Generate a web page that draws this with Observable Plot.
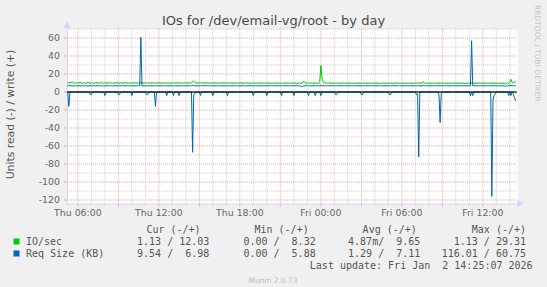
<!DOCTYPE html>
<html><head><meta charset="utf-8">
<script src="https://cdn.jsdelivr.net/npm/d3@7"></script>
<script src="https://cdn.jsdelivr.net/npm/@observablehq/plot@0.6"></script>
<style>
html,body{margin:0;padding:0;background:#f0f0f0;}
#chart svg{display:block;}
</style></head><body><div id="chart"></div>
<script>
// ---- data (5-minute samples from Thu 2026-01-01 05:15 UTC) ----
const startTime = "2026-01-01T05:15:00Z";
const stepMinutes = 5;

// IO/sec, write (+)
const ioWrite = [
/*Thu05*/ 10.2,10.6,9.9,10.8,11.4,10.3,9.8,10.1,10.5,
/*Thu06*/ 9.7,10.2,10.9,10.1,9.6,10.4,10.0,9.5,10.3,10.7,9.9,10.2,
/*Thu07*/ 10.5,9.8,9.4,10.1,10.6,9.9,10.3,9.7,10.0,10.8,10.2,9.6,
/*Thu08*/ 10.4,9.9,10.1,9.5,10.3,10.7,9.8,10.0,9.6,10.2,10.5,9.9,
/*Thu09*/ 10.1,9.7,10.4,10.0,9.5,10.2,10.6,9.8,10.3,9.9,10.1,9.7,
/*Thu10*/ 10.3,9.8,10.0,10.5,9.6,10.2,9.9,10.4,10.7,10.1,9.8,10.2,
/*Thu11*/ 9.9,10.3,10.1,9.7,10.4,9.8,10.0,10.6,9.9,10.2,9.6,10.1,
/*Thu12*/ 10.4,9.7,10.0,10.3,9.8,10.1,10.5,9.9,9.6,10.2,10.0,9.8,
/*Thu13*/ 10.2,9.9,10.4,9.7,10.1,10.6,9.8,10.0,10.3,9.5,10.1,9.9,
/*Thu14*/ 10.3,10.0,9.7,10.2,9.9,10.8,11.6,12.2,10.9,10.1,9.8,10.3,
/*Thu15*/ 9.9,10.4,10.0,9.6,10.2,9.8,10.1,10.5,9.9,10.0,9.7,10.3,
/*Thu16*/ 10.1,9.8,10.2,10.0,9.6,10.4,9.9,10.1,9.7,10.3,10.0,9.8,
/*Thu17*/ 10.2,9.9,9.6,10.1,10.4,9.8,10.0,9.7,10.3,9.9,10.1,9.6,
/*Thu18*/ 10.0,10.3,9.8,9.5,10.1,9.9,10.2,9.7,10.0,9.4,9.9,10.2,
/*Thu19*/ 9.8,10.1,9.6,10.0,9.9,10.3,9.7,9.5,10.1,9.8,10.0,9.6,
/*Thu20*/ 10.2,9.9,9.7,10.0,9.5,9.8,10.1,9.6,9.9,10.3,9.8,9.7,
/*Thu21*/ 10.0,9.6,9.9,10.2,9.7,9.8,10.1,9.5,9.9,10.0,9.6,9.8,
/*Thu22*/ 10.1,9.7,9.9,9.4,10.0,10.3,9.8,9.6,11.1,12.0,10.4,9.9,
/*Thu23*/ 9.7,10.0,9.5,9.8,10.2,9.6,9.9,9.7,10.1,9.5,9.8,10.6,
/*Fri00*/ 29.31,15.2,11.4,10.3,9.8,10.1,9.6,9.9,10.2,9.7,9.5,10.0,
/*Fri01*/ 9.8,9.6,10.1,9.9,9.4,10.0,9.7,9.8,10.2,9.6,9.9,9.5,
/*Fri02*/ 9.9,10.1,9.6,9.8,9.5,10.0,9.7,9.9,9.4,9.8,10.1,9.6,
/*Fri03*/ 9.7,9.9,10.2,9.6,9.8,9.5,10.0,9.7,9.9,9.6,9.8,10.1,
/*Fri04*/ 9.8,9.5,9.9,10.0,9.6,9.7,9.4,9.9,10.1,9.6,9.8,9.5,
/*Fri05*/ 9.9,9.7,10.0,9.6,9.8,9.5,9.9,10.2,9.7,9.6,9.8,10.0,
/*Fri06*/ 9.6,9.9,9.7,10.1,9.5,9.8,9.6,10.0,9.7,9.9,9.4,9.8,
/*Fri07*/ 10.0,9.7,9.9,10.3,9.6,9.8,10.1,11.4,10.2,9.7,9.9,9.6,
/*Fri08*/ 9.8,10.0,9.5,9.9,9.7,10.1,9.6,9.8,9.4,9.9,10.2,9.7,
/*Fri09*/ 9.9,9.6,9.8,10.0,9.5,9.7,9.9,9.6,10.1,9.8,9.5,9.9,
/*Fri10*/ 9.7,9.9,9.6,9.8,10.0,9.5,9.9,9.7,9.6,10.1,9.8,9.5,
/*Fri11*/ 9.9,9.7,10.0,9.6,9.8,9.9,9.5,9.7,10.1,9.8,9.6,9.9,
/*Fri12*/ 9.8,9.6,9.9,10.0,9.7,9.5,9.8,10.1,9.6,9.9,9.7,9.8,
/*Fri13*/ 9.6,9.9,9.7,9.5,9.8,10.0,9.6,9.9,8.32,9.7,9.8,9.6,
/*Fri14*/ 10.4,14.0,11.2,10.1,10.6,12.03
];

// IO/sec, read (-)
const ioRead = [
/*Thu05*/ 0,0,0,0,0,0,0,0,0,
/*Thu06*/ 0,0,0,0,0,0,0,0,0,0,0,0,
/*Thu07*/ 0,0,0,0,0,0,0,0,0,0,0,0,
/*Thu08*/ 0,0,0,0,0,0,0,0,0,0,0,0,
/*Thu09*/ 0,0,0,0,0,0,0,0,0,0,0,0,
/*Thu10*/ 0,0,0,0,0,0,0,0,0,0,0,0,
/*Thu11*/ 0,0,0,0,0,0,0,0,0,0,0,0,
/*Thu12*/ 0,0,0,0,0,0,0,0,0,0,0,0,
/*Thu13*/ 0,0,0,0,0,0,0,0,0,0,0,0,
/*Thu14*/ 0,0,0,0,0,0,0.8,0,0,0,0,0,
/*Thu15*/ 0,0,0,0,0,0,0,0,0,0,0,0,
/*Thu16*/ 0,0,0,0,0,0,0,0,0,0,0,0,
/*Thu17*/ 0,0,0,0,0,0,0,0,0,0,0,0,
/*Thu18*/ 0,0,0,0,0,0,0,0,0,0,0,0,
/*Thu19*/ 0,0,0,0,0,0,0,0,0,0,0,0,
/*Thu20*/ 0,0,0,0,0,0,0,0,0,0,0,0,
/*Thu21*/ 0,0,0,0,0,0,0,0,0,0,0,0,
/*Thu22*/ 0,0,0,0,0,0,0,0,0,0,0,0,
/*Thu23*/ 0,0,0,0,0,0,0,0,0,0,0,0,
/*Fri00*/ 0,0,0,0,0,0,0,0,0,0,0,0,
/*Fri01*/ 0,0,0,0,0,0,0,0,0,0,0,0,
/*Fri02*/ 0,0,0,0,0,0,0,0,0,0,0,0,
/*Fri03*/ 0,0,0,0,0,0,0,0,0,0,0,0,
/*Fri04*/ 0,0,0,0,0,0,0,0,0,0,0,0,
/*Fri05*/ 0,0,0,0,0,0,0,0,0,0,0,0,
/*Fri06*/ 0,0,0,0,0,0,0,0,0,0,0,0,
/*Fri07*/ 0,0,0,0,0,0,0,0,0,0,0,0,
/*Fri08*/ 0,0,0,0,0,0,0,0,0,0,0,0,
/*Fri09*/ 0,0,0,0,0,0,0,0,0,0,0,0,
/*Fri10*/ 0,0,0,0,0,0,0,0,0,0,0,0,
/*Fri11*/ 0,0,0,0,0,0,0,0,0,0,0,0,
/*Fri12*/ 0,0,0,0,0,0,0,0,0,0,0,0,
/*Fri13*/ 0,0,0,0,0,0,0,0,0,0,0,0,
/*Fri14*/ 0,0,0,0,0,1.13
];

// Req Size (KB), write (+)
const reqWrite = [
/*Thu05*/ 7.0,6.8,7.1,6.9,6.7,7.0,6.8,6.9,7.1,
/*Thu06*/ 6.8,7.0,6.9,6.7,7.1,6.8,6.9,7.0,6.8,6.7,6.9,7.0,
/*Thu07*/ 6.9,6.8,7.0,6.9,6.7,7.1,6.8,6.9,7.0,6.8,6.9,6.7,
/*Thu08*/ 7.0,6.9,6.8,7.1,6.9,6.8,7.0,6.7,6.9,7.0,6.8,6.9,
/*Thu09*/ 6.8,7.0,6.9,6.8,7.0,6.9,6.7,7.1,6.9,6.8,7.0,6.9,
/*Thu10*/ 6.9,6.8,7.0,6.9,6.8,7.0,6.9,6.8,60.75,6.9,7.0,6.8,
/*Thu11*/ 7.0,6.9,6.8,7.0,6.9,6.7,7.0,6.9,6.8,7.0,6.9,6.8,
/*Thu12*/ 6.9,7.0,6.8,6.9,7.1,6.8,6.9,7.0,6.8,6.9,7.0,6.9,
/*Thu13*/ 6.8,6.9,7.0,6.8,6.9,7.0,6.7,6.9,7.0,6.8,6.9,7.0,
/*Thu14*/ 6.9,6.8,7.0,6.9,6.8,7.0,7.2,7.4,7.0,6.9,6.8,7.0,
/*Thu15*/ 6.9,7.0,6.8,6.9,7.0,6.8,6.9,7.1,6.9,6.8,7.0,6.9,
/*Thu16*/ 7.0,6.8,6.9,7.0,6.8,6.9,7.0,6.9,6.8,7.0,6.9,6.8,
/*Thu17*/ 6.9,7.0,6.8,6.9,7.0,6.9,6.8,7.0,6.9,6.8,7.0,6.9,
/*Thu18*/ 6.8,6.9,7.0,6.8,6.9,7.0,6.8,6.9,7.1,6.9,6.8,7.0,
/*Thu19*/ 6.9,6.8,7.0,6.9,6.8,7.0,6.9,6.8,6.9,7.0,6.8,6.9,
/*Thu20*/ 7.0,6.9,6.8,7.0,6.9,6.8,6.9,7.0,6.8,6.9,7.0,6.8,
/*Thu21*/ 6.9,7.0,6.8,6.9,6.8,7.0,6.9,6.8,7.0,6.9,6.8,6.9,
/*Thu22*/ 7.0,6.8,6.9,7.0,6.8,6.9,6.4,5.88,6.2,6.8,6.9,7.0,
/*Thu23*/ 6.8,6.9,7.0,6.8,6.9,7.0,6.8,6.9,6.8,7.0,6.9,6.8,
/*Fri00*/ 7.3,7.0,6.9,6.8,7.0,6.9,6.8,6.9,7.0,6.8,6.9,7.0,
/*Fri01*/ 6.9,6.8,7.0,6.9,6.8,7.0,6.9,6.8,6.9,7.0,6.8,6.9,
/*Fri02*/ 7.0,6.9,6.8,7.0,6.9,6.8,6.9,7.0,6.8,6.9,7.0,6.9,
/*Fri03*/ 6.8,7.0,6.9,6.8,7.0,6.9,6.8,6.9,7.0,6.8,6.9,7.0,
/*Fri04*/ 6.9,6.8,7.0,6.9,6.8,6.9,7.0,6.8,6.9,7.0,6.9,6.8,
/*Fri05*/ 7.0,6.9,6.8,6.9,7.0,6.8,6.9,7.0,6.9,6.8,7.0,6.9,
/*Fri06*/ 6.8,6.9,7.0,6.8,6.9,7.0,6.9,6.8,7.0,6.9,6.8,6.9,
/*Fri07*/ 7.0,6.8,6.9,7.1,6.9,6.8,7.0,7.2,6.9,6.8,7.0,6.9,
/*Fri08*/ 6.9,7.0,6.8,6.9,7.0,6.8,6.9,7.0,6.8,6.9,7.0,6.9,
/*Fri09*/ 6.8,6.9,7.0,6.8,6.9,7.0,6.9,6.8,7.0,6.9,6.8,7.0,
/*Fri10*/ 6.9,7.0,6.8,6.9,7.0,6.8,6.9,7.0,6.9,6.8,6.9,7.0,
/*Fri11*/ 6.8,6.9,57.0,6.9,7.0,6.8,6.9,7.0,6.8,6.9,7.0,6.9,
/*Fri12*/ 7.0,6.8,6.9,7.0,6.9,6.8,7.0,6.9,7.1,6.9,6.8,7.0,
/*Fri13*/ 6.9,7.0,6.8,6.9,7.0,6.8,6.9,6.7,6.2,6.8,6.9,7.0,
/*Fri14*/ 6.9,7.2,7.0,6.8,6.9,6.98
];

// Req Size (KB), read (-)
const reqRead = [
/*Thu05*/ 0,16,0,0,0,0,0,0,0,
/*Thu06*/ 0,0,0,0,0,0,0,0,0,0,0,3,
/*Thu07*/ 3,0,0,0,0,0,0,0,0,0,0,0,
/*Thu08*/ 4,0,0,0,0,0,0,0,0,0,0,0,
/*Thu09*/ 3,3,0,0,0,0,0,0,0,0,0,0,
/*Thu10*/ 4,0,0,0,0,0,0,0,0,0,0,0,
/*Thu11*/ 0,3,3,0,0,0,0,0,0,16,0,0,
/*Thu12*/ 0,0,0,0,0,0,0,4,0,0,0,0,
/*Thu13*/ 0,4,0,0,0,0,4,0,0,0,0,0,
/*Thu14*/ 0,0,0,0,0,0,67,3,2,0,0,0,
/*Thu15*/ 0,4,0,0,0,0,0,0,0,0,0,0,
/*Thu16*/ 4,0,0,0,0,0,0,0,0,0,0,0,
/*Thu17*/ 0,4,0,0,0,0,0,0,0,0,0,0,
/*Thu18*/ 0,0,0,0,0,0,0,0,0,0,0,0,
/*Thu19*/ 4,0,0,0,0,0,0,0,0,0,0,0,
/*Thu20*/ 4,0,0,0,0,0,0,0,0,0,0,0,
/*Thu21*/ 0,4,0,0,0,0,0,0,0,0,0,0,
/*Thu22*/ 4,0,0,0,0,0,0,0,0,0,0,0,
/*Thu23*/ 0,4,0,0,0,0,0,4,0,0,0,0,
/*Fri00*/ 4,0,0,0,0,0,0,0,0,0,0,0,
/*Fri01*/ 0,3,3,0,0,0,0,0,0,0,0,0,
/*Fri02*/ 0,0,0,0,0,0,0,0,0,0,0,0,
/*Fri03*/ 3,3,0,0,0,0,0,0,0,0,0,0,
/*Fri04*/ 0,0,0,0,0,0,0,0,0,0,0,0,
/*Fri05*/ 0,3,3,0,0,0,0,0,0,0,0,0,
/*Fri06*/ 0,0,0,0,0,0,0,0,0,0,0,0,
/*Fri07*/ 0,3,2,72,0,0,0,0,0,0,0,0,
/*Fri08*/ 0,0,0,0,0,0,0,0,0,3,34,2,
/*Fri09*/ 0,0,0,0,0,0,0,0,0,0,0,0,
/*Fri10*/ 0,0,0,0,0,0,0,0,0,0,0,0,
/*Fri11*/ 0,4,0,4,0,0,0,0,0,0,0,0,
/*Fri12*/ 0,0,0,0,0,0,0,0,116.01,9,4,2,
/*Fri13*/ 0,0,0,0,0,0,0,0,0,0,0,4,
/*Fri14*/ 0,4,0,2,6,9.54
];

const yTicks = [60,40,20,0,-20,-40,-60,-80,-100,-120];
const xTickLabels = ["Thu 06:00","Thu 12:00","Thu 18:00","Fri 00:00","Fri 06:00","Fri 12:00"];
const seriesNames = ["IO/sec","Req Size (KB)"];
const seriesColors = ["#00cc00","#0066b3"];
const legendHeaders = ["Cur (-/+)","Min (-/+)","Avg (-/+)","Max (-/+)"];
const ioLegend = ["1.13 / 12.03","0.00 /  8.32","4.87m/  9.65","1.13 / 29.31"];
const reqLegend = ["9.54 /  6.98","0.00 /  5.88","1.29 /  7.11","116.01 / 60.75"];
const titleText = "IOs for /dev/email-vg/root - by day";
const yLabelText = "Units read (-) / write (+)";
const watermarkText = "RRDTOOL / TOBI OETIKER";
const lastUpdateText = "Last update: Fri Jan  2 14:25:07 2026";
const versionText = "Munin 2.0.73";

// ---- build ----
const T0 = Date.parse(startTime);
const STEP = stepMinutes * 60000;
const rows = (vals, sign) => vals.map((v, i) => ({t: new Date(T0 + i * STEP), v: sign * v}));

const xDomain = [new Date(Date.UTC(2026,0,1,5,14)), new Date(Date.UTC(2026,0,2,14,34))];
const yDomain = [-124.444, 70];
const hours = d3.utcHour.range(xDomain[0], xDomain[1]);
const minorX = hours.filter(d => d.getUTCHours() % 3 !== 0);
const majorX = hours.filter(d => d.getUTCHours() % 3 === 0);
const labelX = hours.filter(d => d.getUTCHours() % 6 === 0);
const minorY = d3.range(-110, 71, 20);
const AXIS = "#cfd6f8", MINOR = "#cbcbcb", MAJOR = "#e9a3a3";

const chart = Plot.plot({
  width: 547, height: 287,
  marginLeft: 67, marginRight: 30, marginTop: 28.5, marginBottom: 83.5,
  style: {background: "transparent", color: "#666", fontFamily: "DejaVu Sans", overflow: "visible"},
  x: {type: "utc", domain: xDomain},
  y: {domain: yDomain},
  marks: [
    Plot.frame({fill: "white", stroke: "none"}),
    Plot.gridX(minorX, {stroke: MINOR, strokeOpacity: 1, strokeDasharray: "1,1"}),
    Plot.gridY(minorY, {stroke: MINOR, strokeOpacity: 1, strokeDasharray: "1,1"}),
    Plot.gridX(majorX, {stroke: MAJOR, strokeOpacity: 1, strokeDasharray: "1,1"}),
    Plot.gridY(yTicks, {stroke: MAJOR, strokeOpacity: 1, strokeDasharray: "1,1"}),
    Plot.ruleX(minorX, {y1: yDomain[0], y2: yDomain[0], insetBottom: -2, stroke: MINOR}),
    Plot.ruleX(majorX, {y1: yDomain[0], y2: yDomain[0], insetBottom: -3, stroke: MAJOR}),
    Plot.ruleY(yTicks, {x1: xDomain[0], x2: xDomain[0], insetLeft: -3, stroke: MAJOR}),
    Plot.ruleX([xDomain[0]], {stroke: AXIS, insetTop: -2}),
    Plot.ruleY([yDomain[0]], {stroke: AXIS, insetRight: -2}),
    Plot.axisY(yTicks, {tickSize: 0, tickPadding: 7.5, tickFormat: d => String(d), fontSize: 9.4, label: null, fill: "#666"}),
    Plot.axisX(labelX, {tickSize: 0, tickPadding: 5, fontSize: 9.4, label: null, fill: "#666",
      tickFormat: d => xTickLabels[labelX.findIndex(t => +t === +d)]}),
    Plot.line(rows(ioRead, -1), {x: "t", y: "v", stroke: seriesColors[0], strokeWidth: 1}),
    Plot.line(rows(reqRead, -1), {x: "t", y: "v", stroke: seriesColors[1], strokeWidth: 1}),
    Plot.ruleY([0], {stroke: "#000", strokeWidth: 1}),
    Plot.line(rows(ioWrite, 1), {x: "t", y: "v", stroke: seriesColors[0], strokeWidth: 1}),
    Plot.line(rows(reqWrite, 1), {x: "t", y: "v", stroke: seriesColors[1], strokeWidth: 1})
  ]
});
document.getElementById("chart").appendChild(chart);

// ---- decorations and text ----
const svg = d3.select(chart);
const sx = chart.scale("x"), sy = chart.scale("y");
const x0 = sx.apply(xDomain[0]), x1 = sx.apply(xDomain[1]);
const yTop = sy.apply(yDomain[1]), yBot = sy.apply(yDomain[0]);
// axis arrows
svg.append("path").attr("fill", AXIS)
  .attr("d", `M${x0 - 3.5},${yTop - 0.5} L${x0},${yTop - 7} L${x0 + 3.5},${yTop - 0.5} Z`);
svg.append("path").attr("fill", AXIS)
  .attr("d", `M${x1 + 0.5},${yBot - 3.5} L${x1 + 7},${yBot} L${x1 + 0.5},${yBot + 3.5} Z`);

function txt(x, y, s, o = {}) {
  const t = svg.append("text").attr("x", x).attr("y", y).text(s)
    .attr("font-family", o.family || "DejaVu Sans").attr("font-size", o.size || 10)
    .attr("fill", o.fill || "#555").attr("text-anchor", o.anchor || "start")
    .attr("xml:space", "preserve").style("white-space", "pre");
  if (o.transform) t.attr("transform", o.transform).attr("x", 0).attr("y", 0);
  return t;
}
txt(273.5, 24.5, titleText, {size: 13, anchor: "middle", fill: "#4a4a4a"});
txt(0, 0, yLabelText, {size: 10.8, anchor: "middle", fill: "#555", transform: "translate(13.6,114.5) rotate(-90)"});
txt(0, 0, watermarkText, {size: 7.5, fill: "#c4c4c4", transform: "translate(535,5) rotate(90)"});

const mono = {family: "DejaVu Sans Mono", size: 10, fill: "#555", anchor: "end"};
const headerEnds = [200.6, 308.7, 416.8, 526];
const valueEnds = [209.3, 315.7, 420.3, 526];
legendHeaders.forEach((h, i) => txt(headerEnds[i], 233, h, mono));
[ioLegend, reqLegend].forEach((vals, r) => {
  const y = 245 + r * 12;
  svg.append("rect").attr("x", 13.5).attr("y", y - 6.5).attr("width", 6).attr("height", 6).attr("fill", seriesColors[r]);
  txt(26, y, seriesNames[r], {...mono, anchor: "start"});
  vals.forEach((v, i) => txt(valueEnds[i], y, v, mono));
});
txt(532.6, 269, lastUpdateText, mono);
txt(273, 282.5, versionText, {size: 7.5, anchor: "middle", fill: "#bbbbbb"});
</script></body></html>
